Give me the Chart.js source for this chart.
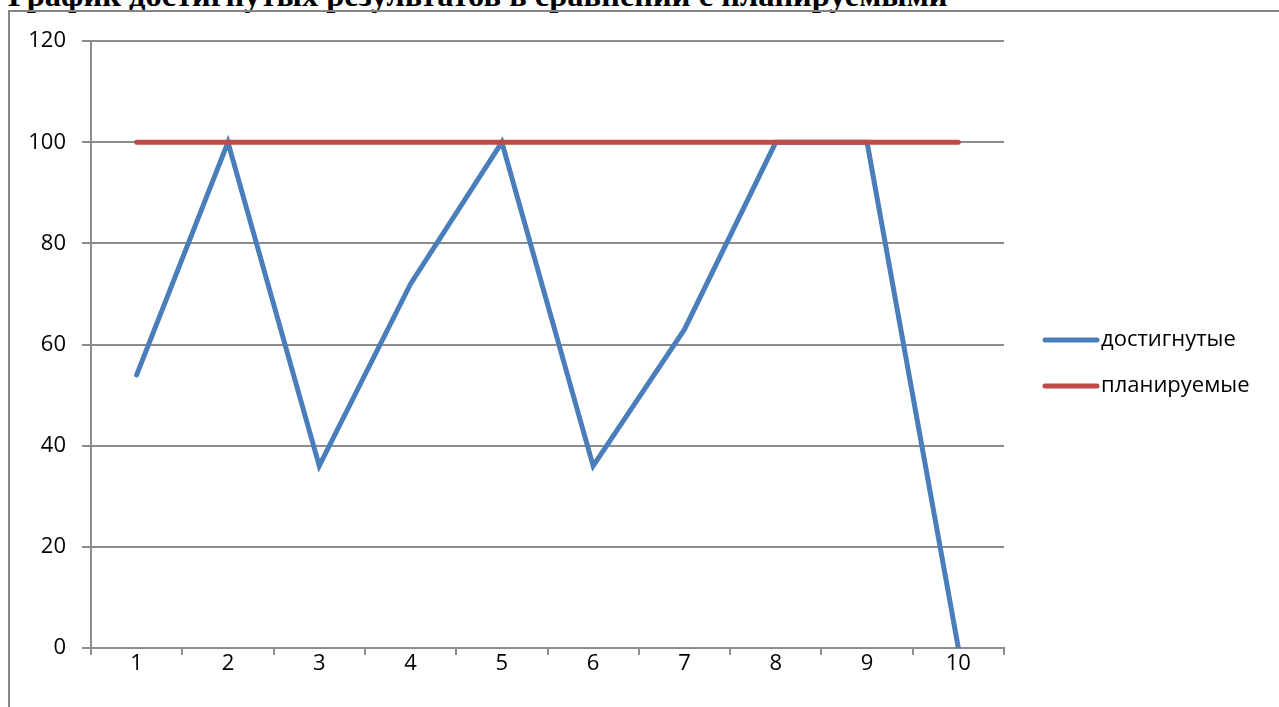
<!DOCTYPE html>
<html>
<head>
<meta charset="utf-8">
<script src="https://cdn.jsdelivr.net/npm/chart.js@4"></script>
<style>
    body { margin: 0; background: #fff; overflow: hidden; }
    #title {
        position: absolute; left: 8px; top: -21px;
        font: bold 32.5px "Liberation Serif", serif; line-height: 32px;
        white-space: nowrap; color: #000;
    }
    #frame {
        position: absolute; left: 8px; top: 10px; width: 1300px; height: 720px;
        border-top: 2px solid #868686; border-left: 2px solid #868686;
    }
    #wrap { position: absolute; left: 10px; top: 12px; width: 1269px; height: 695px; }
</style>
</head>
<body>
<div id="title">График достигнутых результатов в сравнении с планируемыми</div>
<div id="frame"></div>
<div id="wrap"><canvas id="LineChart"></canvas></div>
<script>
// data
var labels = ['1', '2', '3', '4', '5', '6', '7', '8', '9', '10'];
var achieved = [54, 100, 36, 72, 100, 36, 63, 100, 100, 0];
var planned = [100, 100, 100, 100, 100, 100, 100, 100, 100, 100];
var seriesNames = ['достигнутые', 'планируемые'];

var gridColor = '#8c8c8c';
var font = { family: 'Open Sans', size: 22 };

// legend drawn to the right of the plot, like the Excel original
var sideLegend = {
    id: 'sideLegend',
    afterDraw: function (chart) {
        var ctx = chart.ctx;
        var x = chart.chartArea.right + 41;
        var y = 328;
        ctx.save();
        ctx.font = '22px "Open Sans"';
        ctx.textBaseline = 'middle';
        chart.data.datasets.forEach(function (ds, i) {
            var yy = y + i * 46;
            ctx.strokeStyle = ds.borderColor;
            ctx.lineWidth = 5;
            ctx.lineCap = 'round';
            ctx.beginPath();
            ctx.moveTo(x, yy);
            ctx.lineTo(x + 52, yy);
            ctx.stroke();
            ctx.fillStyle = '#000';
            ctx.fillText(ds.label, x + 56, yy);
        });
        ctx.restore();
    }
};

var ctx = document.getElementById('LineChart').getContext('2d');
var myLineChart = new Chart(ctx, {
    type: 'line',
    data: {
        labels: labels,
        datasets: [{
            label: seriesNames[0],
            data: achieved,
            borderColor: '#4A7EBB',
            borderWidth: 5,
            borderCapStyle: 'round',
            pointRadius: 0,
            order: 1
        }, {
            label: seriesNames[1],
            data: planned,
            borderColor: '#BE4B48',
            borderWidth: 5,
            borderCapStyle: 'round',
            pointRadius: 0,
            order: 0
        }]
    },
    options: {
        responsive: true,
        maintainAspectRatio: false,
        animation: false,
        layout: { padding: { top: 29, right: 275, left: 0, bottom: 0 } },
        plugins: {
            legend: { display: false },
            tooltip: { enabled: false }
        },
        scales: {
            x: {
                offset: true,
                grid: {
                    offset: true,
                    drawOnChartArea: false,
                    tickLength: 7,
                    lineWidth: 2,
                    color: gridColor
                },
                border: { color: gridColor, width: 2 },
                ticks: { color: '#000', font: font, padding: -4, maxRotation: 0 },
                afterFit: function (scale) { scale.height = 59; }
            },
            y: {
                min: 0,
                max: 120,
                ticks: { stepSize: 20, color: '#000', font: font, padding: 16 },
                grid: { color: gridColor, tickLength: 9, lineWidth: 2 },
                border: { color: gridColor, width: 2 },
                afterFit: function (scale) { scale.width = 81; }
            }
        }
    },
    plugins: [sideLegend]
});
</script>
</body>
</html>
